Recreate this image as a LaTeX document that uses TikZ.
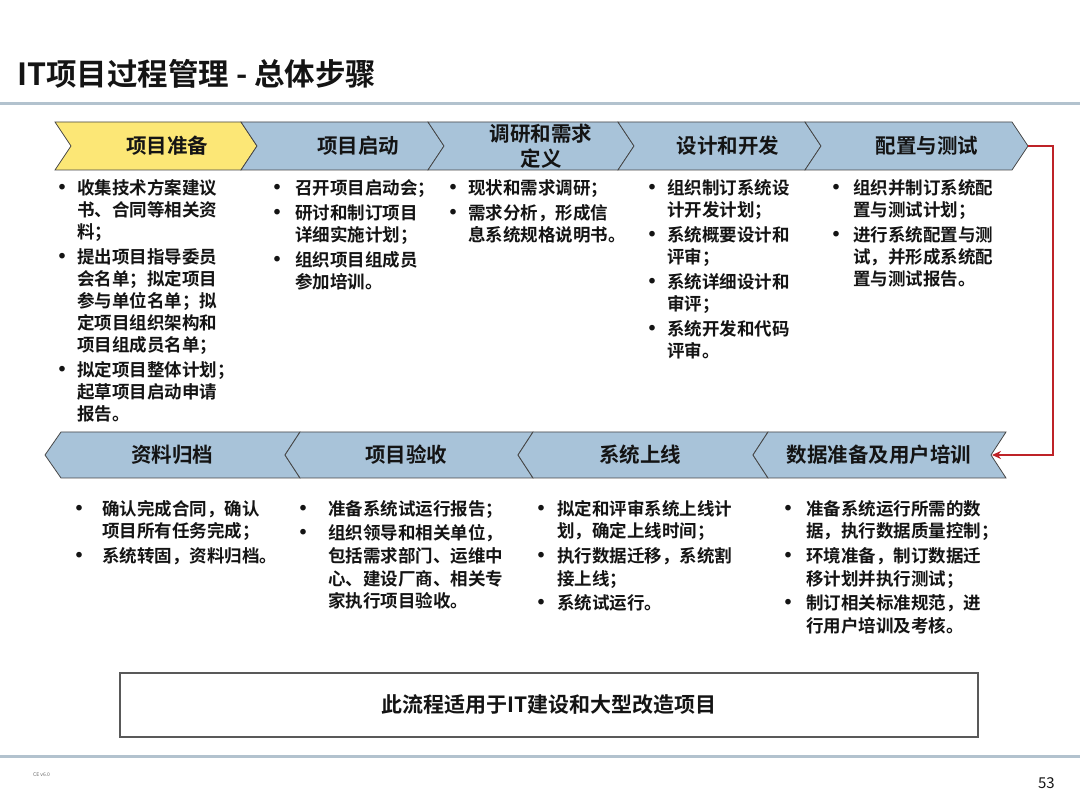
\documentclass[tikz,border=0pt]{standalone}
\usepackage{fontspec}
\setmainfont{Noto Sans CJK SC}[BoldFont={Noto Sans CJK SC Bold}]
\usetikzlibrary{arrows.meta}
\definecolor{chevblue}{RGB}{168,195,217}
\definecolor{chevyellow}{RGB}{252,231,118}
\definecolor{chevline}{RGB}{70,70,70}
\definecolor{rulecol}{RGB}{178,194,206}
\definecolor{arrowred}{RGB}{190,35,40}
\definecolor{txt}{RGB}{20,20,20}
\newcommand{\bitems}[2]{\begin{tabular}{@{}p{#1}@{}l@{}}#2\end{tabular}}
\newcommand{\bul}{\hspace*{4pt}\makebox[0pt][c]{\fontsize{22}{22}\selectfont\raisebox{-1pt}{•}}}
\begin{document}
\begin{tikzpicture}[x=1pt,y=-1pt,
  chev/.style={draw=chevline,line width=0.8pt,line join=miter},
  chevlabel/.style={font=\bfseries\fontsize{20.5}{24}\selectfont,text=txt,align=center,inner sep=0},
  toptext/.style={anchor=north west,inner sep=0,text=txt,font=\bfseries\fontsize{17.5}{22}\selectfont},
  bottext/.style={anchor=north west,inner sep=0,text=txt,font=\bfseries\fontsize{17.5}{22.7}\selectfont},
  rulebar/.style={draw=rulecol,line width=3pt},
  redline/.style={draw=arrowred,line width=1.6pt,-{Stealth[length=9pt,width=8pt]}}
]
\useasboundingbox (0,0) rectangle (1080,810);
\fill[white] (0,0) rectangle (1080,810);

% title and rules
\node[anchor=west,inner sep=0,text=txt,font=\bfseries\fontsize{30.5}{34}\selectfont] (title) at (17,74) {IT项目过程管理 - 总体步骤};
\draw[rulebar] (0,104) -- (1080,104);
\draw[rulebar] (0,756) -- (1080,756);

% top row chevrons (pointing right)
\draw[chev,fill=chevyellow] (55,122) -- (241,122) -- (257,146) -- (241,170) -- (55,170) -- (71,146) -- cycle;
\draw[chev,fill=chevblue] (241,122) -- (428,122) -- (444,146) -- (428,170) -- (241,170) -- (257,146) -- cycle;
\draw[chev,fill=chevblue] (428,122) -- (618,122) -- (634,146) -- (618,170) -- (428,170) -- (444,146) -- cycle;
\draw[chev,fill=chevblue] (618,122) -- (805,122) -- (821,146) -- (805,170) -- (618,170) -- (634,146) -- cycle;
\draw[chev,fill=chevblue] (805,122) -- (1012,122) -- (1028,146) -- (1012,170) -- (805,170) -- (821,146) -- cycle;
\coordinate (t5tip) at (1028,146);

% bottom row chevrons (pointing left)
\draw[chev,fill=chevblue] (45,455) -- (61,432) -- (300,432) -- (285,455) -- (300,478) -- (61,478) -- cycle;
\draw[chev,fill=chevblue] (285,455) -- (300,432) -- (533,432) -- (518,455) -- (533,478) -- (300,478) -- cycle;
\draw[chev,fill=chevblue] (518,455) -- (533,432) -- (768,432) -- (753,455) -- (768,478) -- (533,478) -- cycle;
\draw[chev,fill=chevblue] (753,455) -- (768,432) -- (1006,432) -- (991,455) -- (1006,478) -- (768,478) -- cycle;
\coordinate (b4notch) at (992,455);

% chevron labels
\node[chevlabel] (s1) at (167,146) {项目准备};
\node[chevlabel] (s2) at (358,146) {项目启动};
\node[chevlabel,font=\bfseries\fontsize{20.5}{25}\selectfont] (s3) at (541,146) {调研和需求\\定义};
\node[chevlabel] (s4) at (728,146) {设计和开发};
\node[chevlabel] (s5) at (927,146) {配置与测试};
\node[chevlabel] (s6) at (879,455) {数据准备及用户培训};
\node[chevlabel] (s7) at (640,455) {系统上线};
\node[chevlabel] (s8) at (406,455) {项目验收};
\node[chevlabel] (s9) at (172,455) {资料归档};

% connector
\draw[redline] (t5tip) -- ++(25,0) |- (b4notch);

% top row descriptions
\node[toptext] (d1) at (58,179) {\bitems{19pt}{\bul&收集技术方案建议\\ &书、合同等相关资\\ &料；\\[3pt]
\bul&提出项目指导委员\\ &会名单；拟定项目\\ &参与单位名单；拟\\ &定项目组织架构和\\ &项目组成员名单；\\[3pt]
\bul&拟定项目整体计划；\\ &起草项目启动申请\\ &报告。}};
\node[toptext] (d2) at (273,179) {\bitems{22pt}{\bul&召开项目启动会；\\[3pt]
\bul&研讨和制订项目\\ &详细实施计划；\\[3pt]
\bul&组织项目组成员\\ &参加培训。}};
\node[toptext] (d3) at (449,179) {\bitems{19pt}{\bul&现状和需求调研；\\[3pt]
\bul&需求分析，形成信\\ &息系统规格说明书。}};
\node[toptext] (d4) at (648,179) {\bitems{19pt}{\bul&组织制订系统设\\ &计开发计划；\\[3pt]
\bul&系统概要设计和\\ &评审；\\[3pt]
\bul&系统详细设计和\\ &审评；\\[3pt]
\bul&系统开发和代码\\ &评审。}};
\node[toptext] (d5) at (832,179) {\bitems{21pt}{\bul&组织并制订系统配\\ &置与测试计划；\\[3pt]
\bul&进行系统配置与测\\ &试，并形成系统配\\ &置与测试报告。}};

% bottom row descriptions
\node[bottext] (e1) at (75,499) {\bitems{27pt}{\bul&确认完成合同，确认\\ &项目所有任务完成；\\[2pt]
\bul&系统转固，资料归档。}};
\node[bottext] (e2) at (299,499) {\bitems{29pt}{\bul&准备系统试运行报告；\\[2pt]
\bul&组织领导和相关单位，\\ &包括需求部门、运维中\\ &心、建设厂商、相关专\\ &家执行项目验收。}};
\node[bottext] (e3) at (537,499) {\bitems{20pt}{\bul&拟定和评审系统上线计\\ &划，确定上线时间；\\[2pt]
\bul&执行数据迁移，系统割\\ &接上线；\\[2pt]
\bul&系统试运行。}};
\node[bottext] (e4) at (784,499) {\bitems{22pt}{\bul&准备系统运行所需的数\\ &据，执行数据质量控制；\\[2pt]
\bul&环境准备，制订数据迁\\ &移计划并执行测试；\\[2pt]
\bul&制订相关标准规范，进\\ &行用户培训及考核。}};

% scope box
\draw[draw=black!65,line width=1.2pt] (120,673) rectangle (978,737);
\node[inner sep=0,text=txt,font=\bfseries\fontsize{21}{24}\selectfont] (scope) at (549,705) {此流程适用于IT建设和大型改造项目};

% footer
\node[anchor=west,inner sep=0,text=black!60,font=\fontsize{5}{6}\selectfont] (ver) at (33,775) {CE v6.0};
\node[anchor=east,inner sep=0,text=txt,font=\fontsize{15}{18}\selectfont] (page) at (1055,783) {53};
\end{tikzpicture}
\end{document}
